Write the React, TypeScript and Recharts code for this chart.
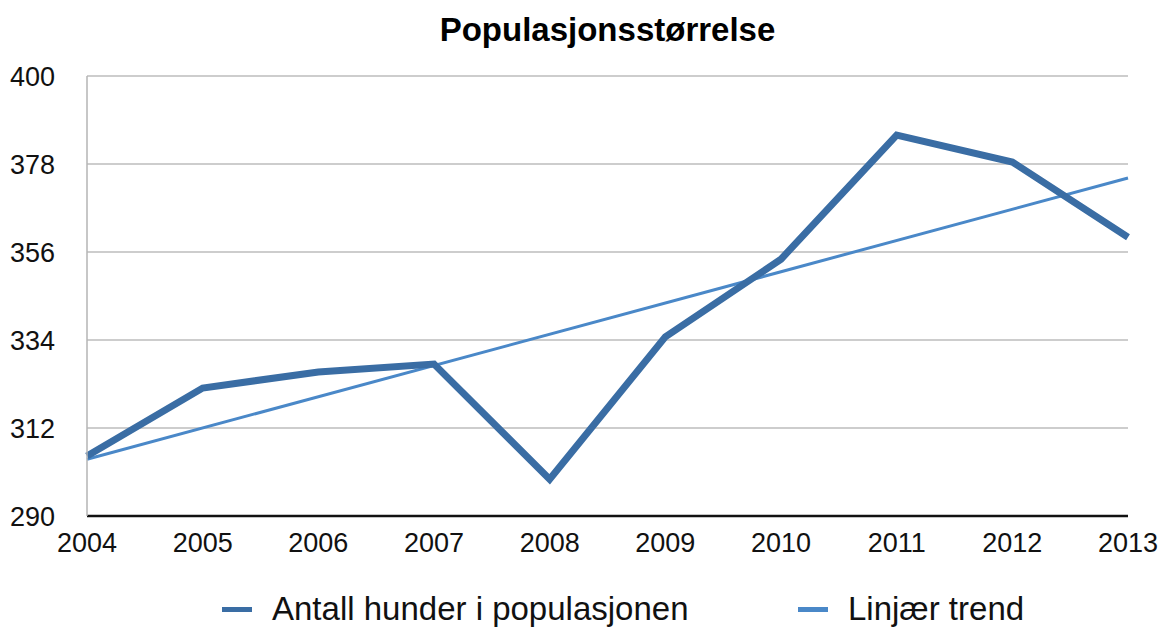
import { LineChart, Line, XAxis, YAxis, CartesianGrid } from "recharts";

const years = ["2004", "2005", "2006", "2007", "2008", "2009", "2010", "2011", "2012", "2013"];
const dogs = [305, 322, 326, 328, 299.2, 334.8, 354.2, 385.2, 378.5, 359.7];
// trend endpoints; the line is joined straight between them
const trend = [304.2, null, null, null, null, null, null, null, null, 374.5];
const yTicks = [290, 312, 334, 356, 378, 400];

const DATA_COLOR = "#3a6da4";
const TREND_COLOR = "#4a88c8";
const FONT = "'Liberation Sans', Arial, Helvetica, sans-serif";

const data = years.map((year, i) => ({ year, dogs: dogs[i], trend: trend[i] }));

function LegendItem({ color, label, left }: { color: string; label: string; left: number }) {
  return (
    <div style={{ position: "absolute", left, top: 591, height: 36, display: "flex", alignItems: "center" }}>
      <span style={{ display: "inline-block", width: 30, height: 5, background: color, marginRight: 20 }} />
      <span style={{ fontSize: 33, lineHeight: "36px", color: "#111", fontFamily: FONT }}>{label}</span>
    </div>
  );
}

export default function App() {
  return (
    <div style={{ position: "absolute", left: 0, top: 0, width: 1163, height: 632, background: "#fff", overflow: "hidden" }}>
      <div
        style={{
          position: "absolute",
          left: 0,
          width: 1163,
          top: 11,
          textAlign: "center",
          paddingLeft: 52,
          boxSizing: "border-box",
          fontFamily: FONT,
          fontWeight: "bold",
          fontSize: 33,
          color: "#000",
        }}
      >
        Populasjonsstørrelse
      </div>
      <LineChart width={1163} height={632} data={data} margin={{ top: 76, right: 35, left: 0, bottom: 86 }}>
        <CartesianGrid stroke="#bdbdbd" strokeWidth={1.5} vertical={false} />
        <XAxis
          dataKey="year"
          tickLine={false}
          tickSize={0}
          tickMargin={17}
          axisLine={{ stroke: "#111", strokeWidth: 2.5 }}
          tick={{ fill: "#111", fontSize: 27, fontFamily: FONT }}
          interval={0}
        />
        <YAxis
          domain={[290, 400]}
          ticks={yTicks}
          width={87}
          tickLine={false}
          tickSize={0}
          tickMargin={32}
          axisLine={{ stroke: "#b5b5b5", strokeWidth: 1.5 }}
          tick={{ fill: "#111", fontSize: 27, fontFamily: FONT }}
          allowDataOverflow
        />
        <YAxis
          yAxisId="right"
          orientation="right"
          width={0}
          tick={false}
          tickLine={false}
          axisLine={{ stroke: "#b5b5b5", strokeWidth: 1.5 }}
        />
        <Line
          dataKey="trend"
          stroke={TREND_COLOR}
          strokeWidth={3}
          dot={false}
          connectNulls
          isAnimationActive={false}
        />
        <Line
          dataKey="dogs"
          stroke={DATA_COLOR}
          strokeWidth={7}
          dot={false}
          strokeLinejoin="miter"
          isAnimationActive={false}
        />
      </LineChart>
      <LegendItem color={DATA_COLOR} label="Antall hunder i populasjonen" left={222} />
      <LegendItem color={TREND_COLOR} label="Linjær trend" left={798} />
    </div>
  );
}
